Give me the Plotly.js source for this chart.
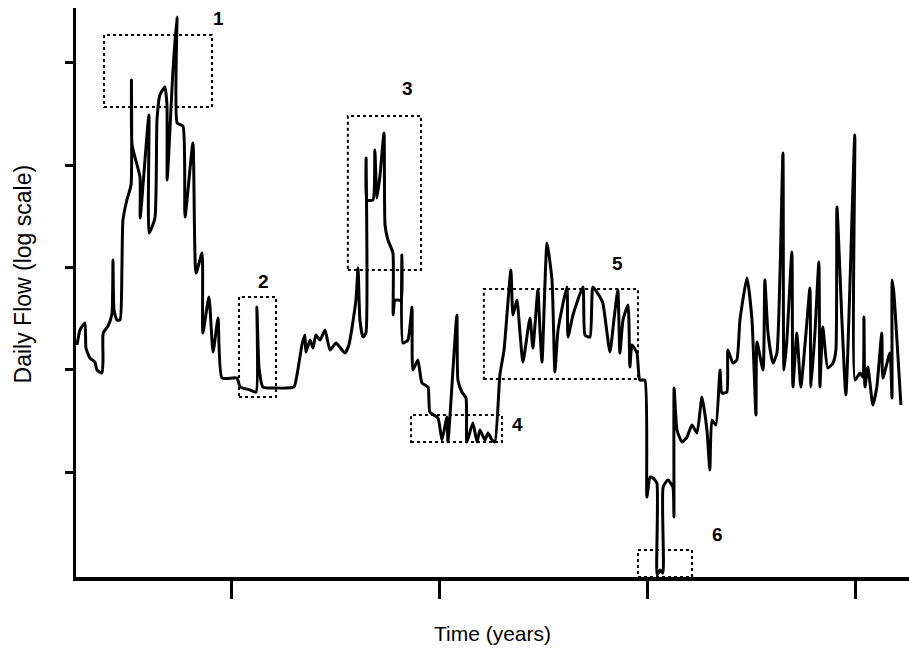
<!DOCTYPE html>
<html>
<head>
<meta charset="utf-8">
<script src="https://cdn.plot.ly/plotly-3.0.1.min.js"></script>
<style>html,body{margin:0;padding:0;background:#fff;}#chart{width:909px;height:650px;}</style>
</head>
<body>
<div id="chart"></div>
<script>
// Time in years (ticks at whole years)
var timeYears = [
0.254,0.268,0.292,0.297,0.316,0.340,0.350,0.374,0.379,0.380,
0.403,0.422,0.427,0.432,0.446,0.461,0.470,0.475,0.494,0.514,
0.516,0.519,0.557,0.558,0.600,0.601,0.629,0.639,0.653,0.677,
0.687,0.688,0.716,0.735,0.736,0.764,0.774,0.812,0.827,0.856,
0.860,0.889,0.909,0.933,0.952,1.024,1.039,1.087,1.116,1.120,
1.130,1.149,1.207,1.298,1.313,1.337,1.351,1.356,1.376,1.390,
1.404,1.424,1.448,1.472,1.501,1.544,1.563,1.597,1.607,1.616,
1.631,1.645,1.646,1.650,1.679,1.688,1.698,1.713,1.732,1.737,
1.751,1.775,1.776,1.785,1.814,1.818,1.823,1.847,1.867,1.871,
1.895,1.915,1.944,1.953,1.992,2.011,2.035,2.040,2.083,2.088,
2.107,2.127,2.131,2.160,2.180,2.194,2.218,2.233,2.252,2.266,
2.290,2.310,2.343,2.353,2.372,2.387,2.401,2.435,2.449,2.473,
2.483,2.493,2.517,2.541,2.555,2.570,2.613,2.618,2.642,2.690,
2.700,2.724,2.738,2.772,2.786,2.820,2.839,2.858,2.868,2.883,
2.907,2.916,2.926,2.950,2.964,2.988,2.998,3.013,3.027,3.046,
3.047,3.061,3.075,3.076,3.099,3.123,3.128,3.129,3.143,3.167,
3.191,3.215,3.239,3.263,3.287,3.301,3.311,3.330,3.350,3.359,
3.383,3.388,3.412,3.431,3.446,3.480,3.504,3.523,3.528,3.557,
3.566,3.581,3.605,3.624,3.653,3.658,3.672,3.696,3.701,3.720,
3.739,3.764,3.783,3.788,3.807,3.826,3.831,3.845,3.869,3.894,
3.908,3.913,3.937,3.956,3.999,4.000,4.024,4.038,4.043,4.048,
4.062,4.086,4.105,4.129,4.134,4.168,4.178,4.179,4.187,4.221
];
// Daily flow, as log10 of flow (the axis is a log scale)
var flowLog10 = [
2.242,2.388,2.457,2.212,2.114,2.075,1.997,1.968,2.095,2.359,
2.427,2.545,3.072,2.584,2.486,2.486,2.975,3.463,3.659,3.806,
4.832,4.197,3.884,3.483,4.490,3.336,3.483,4.441,4.685,4.764,
4.588,3.855,4.930,5.448,4.412,4.382,3.493,4.216,2.945,3.141,
2.359,2.711,2.173,2.506,1.919,1.919,1.831,1.802,1.782,2.613,
2.027,1.831,1.821,1.831,1.948,2.242,2.339,2.173,2.290,2.212,
2.339,2.290,2.388,2.193,2.261,2.163,2.242,2.681,2.994,2.486,
2.320,2.359,4.069,3.659,3.659,4.148,3.678,3.903,4.314,3.415,
3.268,3.141,2.535,2.681,2.681,3.121,2.261,2.290,2.613,1.997,
2.095,1.870,1.831,1.587,1.528,1.313,1.538,1.293,2.535,1.899,
1.782,1.724,1.293,1.479,1.293,1.411,1.313,1.381,1.313,1.293,
1.948,2.193,2.975,2.535,2.681,2.359,2.075,2.506,2.212,2.779,
2.388,2.075,3.239,2.877,1.978,2.388,2.809,2.320,2.535,2.809,
2.339,2.320,2.809,2.711,2.652,2.173,2.486,2.779,2.163,2.486,
2.633,2.027,2.242,2.163,1.899,1.899,0.756,0.951,0.942,0.893,
-0.007,0.042,0.013,0.854,0.922,0.854,0.560,1.821,1.411,1.293,
1.342,1.460,1.381,1.733,1.411,1.020,1.508,1.460,1.997,1.772,
1.782,2.193,2.066,2.095,2.486,2.897,2.486,1.557,2.271,1.997,
2.877,2.359,2.066,2.163,4.118,1.997,2.290,3.151,1.831,2.359,
1.831,2.359,2.799,1.831,2.359,3.053,1.831,2.418,2.017,2.066,
2.193,3.591,2.486,1.753,4.294,1.899,1.968,1.929,2.515,1.831,
2.027,1.655,1.831,2.359,1.919,2.163,1.724,2.877,2.750,1.655
];
// Highlighted episodes (dotted boxes) and their labels
var boxLabels = ["1","2","3","4","5","6"];
var boxX0 = [0.384,1.034,1.558,1.862,2.213,2.955];
var boxX1 = [0.904,1.212,1.910,2.300,2.955,3.215];
var boxY0 = [4.568,1.733,2.975,1.293,1.909,-0.026];
var boxY1 = [5.272,2.711,4.480,1.557,2.789,0.238];
var labelX = [0.933,1.154,1.847,2.377,2.858,3.340];
var labelY = [5.438,2.867,4.754,1.460,3.043,0.394];
var yearTicks = [1,2,3,4];
var flowTicks = [1,2,3,4,5];

var FONT = 'Arial, "Liberation Sans", sans-serif';
var shapes = boxLabels.map(function(_, i){
  return {type:'rect', xref:'x', yref:'y', x0:boxX0[i], x1:boxX1[i], y0:boxY0[i], y1:boxY1[i],
    line:{color:'#000', width:2, dash:'dot'}, fillcolor:'rgba(0,0,0,0)', layer:'above'};
});
var annotations = boxLabels.map(function(t, i){
  return {xref:'x', yref:'y', x:labelX[i], y:labelY[i], text:t, showarrow:false,
    font:{family:FONT, size:19, color:'#000', weight:'bold'}};
});
annotations.push({xref:'paper', yref:'paper', x:-0.064, y:0.533, xanchor:'center', yanchor:'middle',
  text:'Daily Flow (log scale)', textangle:-90, showarrow:false,
  font:{family:FONT, size:23, color:'#000'}});

var trace = {x:timeYears, y:flowLog10, type:'scatter', mode:'lines',
  line:{color:'#000', width:3, shape:'spline', smoothing:0.5}, hoverinfo:'skip'};

var layout = {
  width:909, height:650,
  margin:{l:76, r:0, t:8, b:73},
  paper_bgcolor:'#fff', plot_bgcolor:'#fff',
  showlegend:false,
  xaxis:{range:[0.249,4.260], showgrid:false, zeroline:false, showline:true, linecolor:'#000', linewidth:3.5,
    ticks:'outside', ticklen:18, tickwidth:3, tickcolor:'#000', tickvals:yearTicks, showticklabels:false,
    title:{text:'Time (years)', standoff:30, font:{family:FONT, size:21, color:'#000'}}},
  yaxis:{range:[-0.026,5.536], showgrid:false, zeroline:false, showline:true, linecolor:'#000', linewidth:3.5,
    ticks:'outside', ticklen:8, tickwidth:3, tickcolor:'#000', tickvals:flowTicks, showticklabels:false},
  shapes:shapes,
  annotations:annotations
};
Plotly.newPlot('chart', [trace], layout, {displayModeBar:false, staticPlot:true});
</script>
</body>
</html>
